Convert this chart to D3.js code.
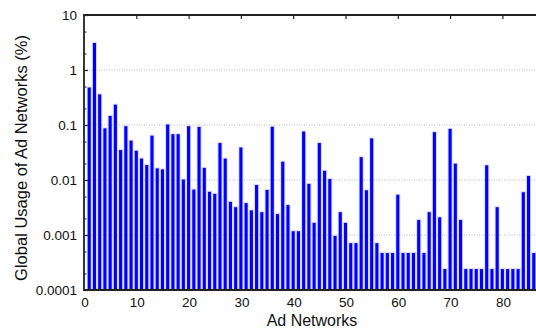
<!DOCTYPE html>
<html>
<head>
<meta charset="utf-8">
<script src="https://cdn.jsdelivr.net/npm/d3@7"></script>
<style>
  html, body { margin: 0; padding: 0; background: #fff; }
  svg { display: block; font-family: "Liberation Sans", Arial, sans-serif; }
</style>
</head>
<body>
<svg id="chart" width="536" height="328"></svg>
<script>
// usage share (%) of each ad network
const networks = d3.range(1, 87);
const usage = [
  0.48, 3.1, 0.36, 0.087, 0.146, 0.234, 0.035, 0.095, 0.052, 0.034,
  0.0245, 0.0187, 0.064, 0.0163, 0.0156, 0.102, 0.068, 0.068, 0.0102, 0.095,
  0.0067, 0.092, 0.0166, 0.0061, 0.0056, 0.047, 0.0245, 0.0040, 0.0032, 0.039,
  0.0038, 0.0028, 0.0081, 0.0026, 0.0066, 0.093, 0.0024, 0.0215, 0.0035, 0.00117,
  0.00117, 0.076, 0.0085, 0.00166, 0.047, 0.0147, 0.0104, 0.00096, 0.0026, 0.00166,
  0.00071, 0.00071, 0.026, 0.0065, 0.057, 0.00071, 0.00047, 0.00047, 0.00047, 0.0054,
  0.00047, 0.00047, 0.00047, 0.00187, 0.00047, 0.0026, 0.074, 0.0021, 0.00024, 0.085,
  0.0198, 0.00187, 0.00024, 0.00024, 0.00024, 0.00024, 0.0185, 0.00024, 0.0032, 0.00024,
  0.00024, 0.00024, 0.00024, 0.006, 0.0118, 0.00047
];
const xTicks = [0, 10, 20, 30, 40, 50, 60, 70, 80];
const yTicks = [0.0001, 0.001, 0.01, 0.1, 1, 10];
const yTickLabels = ["0.0001", "0.001", "0.01", "0.1", "1", "10"];

const svg = d3.select("#chart");

// plot is wider than the picture, the right part is cut off
const x = d3.scaleLinear().domain([0, 100]).range([84, 607]);
const y = d3.scaleLog().domain([0.0001, 10]).range([290, 15]);

// dotted grid on the decades
svg.append("g")
  .selectAll("line")
  .data(yTicks.slice(1, -1))
  .enter()
  .append("line")
  .attr("x1", x(0)).attr("x2", 536)
  .attr("y1", d => y(d)).attr("y2", d => y(d))
  .attr("stroke", "#bbb")
  .attr("stroke-width", 1)
  .attr("stroke-dasharray", "1,1.5");

const bars = svg.append("g");
const bw = 3.1;

// soft halo round each bar, like the blurry original
bars.selectAll("rect.halo")
  .data(usage)
  .enter()
  .append("rect")
  .attr("class", "halo")
  .attr("x", (d, i) => x(networks[i]) - bw / 2 - 1)
  .attr("width", bw + 2)
  .attr("y", d => y(d) - 1)
  .attr("height", d => y(0.0001) - y(d) + 1)
  .attr("fill", "#b8b8ff")
  .attr("opacity", 0.55);

bars.selectAll("rect.bar")
  .data(usage)
  .enter()
  .append("rect")
  .attr("class", "bar")
  .attr("x", (d, i) => x(networks[i]) - bw / 2)
  .attr("width", bw)
  .attr("y", d => y(d))
  .attr("height", d => y(0.0001) - y(d))
  .attr("fill", "#0000ff");

// y axis: major ticks inward, minor at 2 and 5
const minor = [];
yTicks.slice(0, -1).forEach(t => { minor.push(t * 2, t * 5); });

const yAxis = d3.axisRight(y)
  .tickValues(yTicks)
  .tickSize(4)
  .tickFormat("");
svg.append("g")
  .attr("transform", `translate(${x(0)},0)`)
  .call(yAxis)
  .call(g => g.select(".domain").remove())
  .selectAll("line").attr("stroke", "#222").attr("stroke-width", 1.2);

svg.append("g")
  .attr("transform", `translate(${x(0)},0)`)
  .call(d3.axisRight(y).tickValues(minor).tickSize(2.5).tickFormat(""))
  .call(g => g.select(".domain").remove())
  .selectAll("line").attr("stroke", "#222");

svg.append("g")
  .selectAll("text")
  .data(yTicks)
  .enter()
  .append("text")
  .attr("x", 77)
  .attr("y", d => y(d))
  .attr("dy", "0.36em")
  .attr("text-anchor", "end")
  .attr("font-size", "13.5px")
  .attr("fill", "#111")
  .text((d, i) => yTickLabels[i]);

// x ticks at the top, pointing down into the plot
svg.append("g")
  .attr("transform", `translate(0,${y(10)})`)
  .call(d3.axisBottom(x).tickValues(xTicks.slice(1)).tickSize(4).tickFormat(""))
  .call(g => g.select(".domain").remove())
  .selectAll("line").attr("stroke", "#222").attr("stroke-width", 1.2);

svg.append("g")
  .selectAll("text")
  .data(xTicks)
  .enter()
  .append("text")
  .attr("x", d => x(d) + 1)
  .attr("y", 307)
  .attr("text-anchor", "middle")
  .attr("font-size", "13.5px")
  .attr("fill", "#111")
  .text(d => d);

// frame (open on the right, it runs out of the picture)
svg.append("path")
  .attr("d", `M537,${y(10)}H${x(0)}V${y(0.0001)}H537`)
  .attr("fill", "none")
  .attr("stroke", "#222")
  .attr("stroke-width", 1.8);

svg.append("text")
  .attr("x", 312)
  .attr("y", 326)
  .attr("text-anchor", "middle")
  .attr("font-size", "16px")
  .attr("fill", "#111")
  .text("Ad Networks");

svg.append("text")
  .attr("transform", "translate(27,158) rotate(-90)")
  .attr("text-anchor", "middle")
  .attr("font-size", "16.5px")
  .attr("fill", "#111")
  .text("Global Usage of Ad Networks (%)");
</script>
</body>
</html>
